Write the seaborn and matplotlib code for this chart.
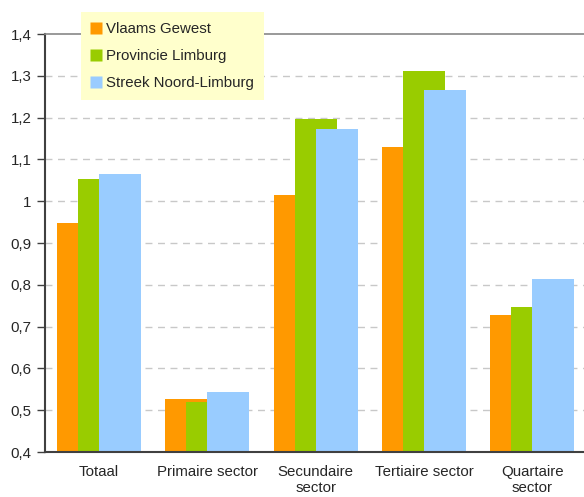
import numpy as np
import matplotlib
matplotlib.use('Agg')
import matplotlib.pyplot as plt
import seaborn as sns
from matplotlib.lines import Line2D

categories = ['Totaal', 'Primaire sector', 'Secundaire\nsector',
              'Tertiaire sector', 'Quartaire\nsector']
series_names = ['Vlaams Gewest', 'Provincie Limburg', 'Streek Noord-Limburg']
vlaams = [0.949, 0.527, 1.015, 1.130, 0.729]
limburg = [1.054, 0.520, 1.196, 1.312, 0.746]
noord = [1.066, 0.544, 1.174, 1.266, 0.815]
y_ticks = [0.4, 0.5, 0.6, 0.7, 0.8, 0.9, 1.0, 1.1, 1.2, 1.3, 1.4]
y_labels = ['0,4', '0,5', '0,6', '0,7', '0,8', '0,9', '1', '1,1', '1,2', '1,3', '1,4']

colors = ['#FF9900', '#99CC00', '#99CCFF']

sns.set_style('white')
plt.rcParams['font.family'] = ['Liberation Sans', 'DejaVu Sans']

fig = plt.figure(figsize=(5.84, 4.97), dpi=100)
ax = fig.add_axes([0.0765, 0.0905, 0.928, 0.841])

# overlapping bars, 50% overlap like the Excel original
idx = np.arange(len(categories))
bw = 0.387
offsets = [-bw / 2, 0, bw / 2]
for name, vals, col, off in zip(series_names, [vlaams, limburg, noord], colors, offsets):
    sns.barplot(x=idx + off, y=vals, native_scale=True, orient='x', width=bw,
                color=col, saturation=1, linewidth=0, ax=ax, zorder=2)

ax.set_xlim(-0.5, 4.5)
ax.set_ylim(0.4, 1.4)
ax.set_yticks(y_ticks)
ax.set_yticklabels(y_labels, fontsize=10.8)
ax.set_xticks(idx)
ax.set_xticklabels(categories, fontsize=10.8, linespacing=1.25)
ax.set_xticks(np.arange(-0.5, 5, 1), minor=True)
ax.tick_params(axis='x', which='major', length=0, pad=9)
ax.tick_params(axis='x', which='minor', length=5, width=1, color='#404040', direction='out')
ax.tick_params(axis='y', length=6, width=1, color='#404040', direction='out', left=True)
ax.set_xlabel('')
ax.set_ylabel('')

for v in y_ticks[1:-1]:
    ax.axhline(v, color='#C8C8C8', lw=1, ls=(0, (5, 4)), zorder=0)

for s in ['left', 'bottom']:
    ax.spines[s].set_color('#404040')
    ax.spines[s].set_linewidth(1.5)
ax.spines['top'].set_color('#888888')
ax.spines['top'].set_linewidth(1.2)
ax.spines['right'].set_visible(False)

handles = [Line2D([], [], marker='s', ls='none', markersize=9,
                  markerfacecolor=c, markeredgecolor='none') for c in colors]
leg = fig.legend(handles, series_names, loc='upper left',
                 bbox_to_anchor=(81 / 584, 1 - 12 / 497), frameon=True,
                 fancybox=False, fontsize=10.8, labelspacing=0.88,
                 handlelength=0.75, handletextpad=0.3, borderpad=0.65,
                 borderaxespad=0)
leg.get_frame().set_facecolor('#FFFFCC')
leg.get_frame().set_edgecolor('none')
leg.get_frame().set_alpha(1)

fig.savefig('out.png', dpi=100)
